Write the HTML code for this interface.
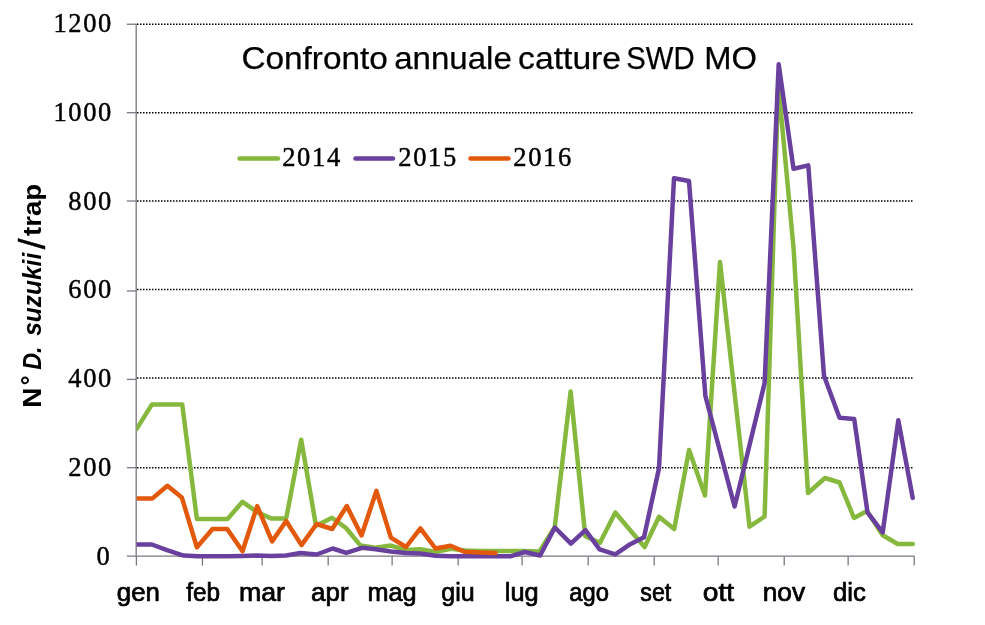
<!DOCTYPE html><html><head><meta charset="utf-8"><title>Confronto annuale catture SWD MO</title>
<style>html,body{margin:0;padding:0;background:#fff;}svg{display:block;filter:blur(0.4px);}svg{font-family:"Liberation Sans",Arial,sans-serif;}text{fill:#000;}</style></head><body>
<svg width="985" height="625" viewBox="0 0 985 625">
<rect width="985" height="625" fill="#fff"/>
<line x1="137" y1="24.2" x2="914" y2="24.2" stroke="#000" stroke-width="1.4" stroke-dasharray="1.5 1.5"/>
<line x1="137" y1="112.7" x2="914" y2="112.7" stroke="#000" stroke-width="1.4" stroke-dasharray="1.5 1.5"/>
<line x1="137" y1="201.0" x2="914" y2="201.0" stroke="#000" stroke-width="1.4" stroke-dasharray="1.5 1.5"/>
<line x1="137" y1="289.5" x2="914" y2="289.5" stroke="#000" stroke-width="1.4" stroke-dasharray="1.5 1.5"/>
<line x1="137" y1="378.0" x2="914" y2="378.0" stroke="#000" stroke-width="1.4" stroke-dasharray="1.5 1.5"/>
<line x1="137" y1="467.8" x2="914" y2="467.8" stroke="#000" stroke-width="1.4" stroke-dasharray="1.5 1.5"/>
<line x1="136.2" y1="23.6" x2="136.2" y2="556.8" stroke="#7c7681" stroke-width="1.3"/>
<line x1="126.8" y1="556.2" x2="914.6" y2="556.2" stroke="#7c7681" stroke-width="1.3"/>
<line x1="126.8" y1="24.25" x2="136.2" y2="24.25" stroke="#7c7681" stroke-width="1.3"/>
<line x1="126.8" y1="112.7" x2="136.2" y2="112.7" stroke="#7c7681" stroke-width="1.3"/>
<line x1="126.8" y1="201.0" x2="136.2" y2="201.0" stroke="#7c7681" stroke-width="1.3"/>
<line x1="126.8" y1="291.0" x2="136.2" y2="291.0" stroke="#7c7681" stroke-width="1.3"/>
<line x1="126.8" y1="379.4" x2="136.2" y2="379.4" stroke="#7c7681" stroke-width="1.3"/>
<line x1="126.8" y1="467.7" x2="136.2" y2="467.7" stroke="#7c7681" stroke-width="1.3"/>
<line x1="136.40" y1="556.2" x2="136.40" y2="565.6" stroke="#7c7681" stroke-width="1.3"/>
<line x1="202.46" y1="556.2" x2="202.46" y2="565.6" stroke="#7c7681" stroke-width="1.3"/>
<line x1="262.13" y1="556.2" x2="262.13" y2="565.6" stroke="#7c7681" stroke-width="1.3"/>
<line x1="328.19" y1="556.2" x2="328.19" y2="565.6" stroke="#7c7681" stroke-width="1.3"/>
<line x1="392.12" y1="556.2" x2="392.12" y2="565.6" stroke="#7c7681" stroke-width="1.3"/>
<line x1="458.17" y1="556.2" x2="458.17" y2="565.6" stroke="#7c7681" stroke-width="1.3"/>
<line x1="522.10" y1="556.2" x2="522.10" y2="565.6" stroke="#7c7681" stroke-width="1.3"/>
<line x1="588.16" y1="556.2" x2="588.16" y2="565.6" stroke="#7c7681" stroke-width="1.3"/>
<line x1="654.22" y1="556.2" x2="654.22" y2="565.6" stroke="#7c7681" stroke-width="1.3"/>
<line x1="718.15" y1="556.2" x2="718.15" y2="565.6" stroke="#7c7681" stroke-width="1.3"/>
<line x1="784.21" y1="556.2" x2="784.21" y2="565.6" stroke="#7c7681" stroke-width="1.3"/>
<line x1="848.14" y1="556.2" x2="848.14" y2="565.6" stroke="#7c7681" stroke-width="1.3"/>
<line x1="914.20" y1="556.2" x2="914.20" y2="565.6" stroke="#7c7681" stroke-width="1.3"/>
<defs><clipPath id="pa"><rect x="136.6" y="0" width="850" height="625"/></clipPath></defs>
<g clip-path="url(#pa)">
<polyline points="136.8,428.6 152.0,404.4 167.0,404.4 182.2,404.4 196.9,519.0 212.0,519.0 227.5,519.0 242.5,501.8 256.8,512.0 271.0,518.4 286.2,518.4 301.2,439.7 316.0,525.8 332.0,517.8 346.0,528.0 360.5,545.6 375.5,547.8 390.9,545.6 406.0,550.0 420.4,549.2 435.5,552.0 450.6,548.8 465.5,550.5 480.4,551.0 495.3,551.0 510.2,551.0 524.0,551.0 539.5,551.5 554.8,527.0 570.6,391.5 585.3,536.3 600.0,542.7 615.3,512.5 630.0,530.0 644.6,547.0 659.0,516.8 674.2,529.0 689.1,450.0 705.0,495.5 720.0,262.0 734.0,388.0 749.5,526.7 764.6,516.5 778.3,84.0 793.7,250.0 808.0,493.0 825.0,478.0 839.5,482.5 854.0,518.0 867.0,511.0 882.7,535.3 897.7,544.0 912.7,544.0" fill="none" stroke="#86b83e" stroke-width="4.5" stroke-linejoin="round" stroke-linecap="round"/>
<polyline points="136.8,544.5 151.9,544.5 167.0,550.2 183.5,555.6 198.0,556.2 212.0,556.2 227.0,556.2 242.0,556.0 257.0,555.5 271.0,556.0 286.0,555.5 300.5,553.0 316.6,554.5 332.7,548.5 346.2,552.8 362.0,547.8 375.7,549.2 390.9,551.5 406.0,553.0 420.4,553.5 435.5,555.7 450.6,556.2 465.5,556.3 480.4,556.3 495.3,556.3 510.2,556.3 524.9,552.0 540.1,555.5 554.9,527.5 570.9,543.7 585.4,530.1 599.6,549.3 615.3,554.4 630.2,544.2 644.0,537.3 659.0,468.2 674.0,178.2 689.0,181.0 705.4,396.0 734.6,506.5 764.6,383.1 778.7,64.2 793.5,168.8 808.3,165.4 824.0,375.8 839.5,417.8 854.2,419.0 867.5,512.3 882.7,532.4 898.3,420.2 912.7,497.9" fill="none" stroke="#6a409e" stroke-width="4.5" stroke-linejoin="round" stroke-linecap="round"/>
<polyline points="136.8,498.4 152.5,498.4 167.4,485.8 181.8,497.4 196.9,547.3 212.5,529.0 227.2,529.0 242.5,551.2 257.2,506.1 272.1,541.4 286.2,521.0 301.5,545.1 316.6,524.0 332.2,529.0 346.8,506.0 361.5,535.5 376.4,490.9 390.9,537.7 406.0,547.0 420.4,528.3 435.5,548.5 450.6,545.7 464.2,551.8 480.4,552.5 495.5,553.0" fill="none" stroke="#e2590c" stroke-width="4.5" stroke-linejoin="round" stroke-linecap="round"/>
</g>
<text x="53.48 68.31 83.14 97.97" y="31.9" font-family="Liberation Serif, serif" font-size="26.5" stroke="#000" stroke-width="0.45">1200</text>
<text x="53.48 68.31 83.14 97.97" y="120.5" font-family="Liberation Serif, serif" font-size="26.5" stroke="#000" stroke-width="0.45">1000</text>
<text x="68.31 83.14 97.97" y="210.3" font-family="Liberation Serif, serif" font-size="26.5" stroke="#000" stroke-width="0.45">800</text>
<text x="68.31 83.14 97.97" y="298.3" font-family="Liberation Serif, serif" font-size="26.5" stroke="#000" stroke-width="0.45">600</text>
<text x="68.31 83.14 97.97" y="387.0" font-family="Liberation Serif, serif" font-size="26.5" stroke="#000" stroke-width="0.45">400</text>
<text x="68.31 83.14 97.97" y="475.5" font-family="Liberation Serif, serif" font-size="26.5" stroke="#000" stroke-width="0.45">200</text>
<text x="96.42" y="565.2" font-family="Liberation Serif, serif" font-size="26.5" stroke="#000" stroke-width="0.45">0</text>
<text x="282.18 297.07 311.98 326.88" y="165.9" font-family="Liberation Serif, serif" font-size="26.5" stroke="#000" stroke-width="0.45">2014</text>
<text x="398.27 413.17 428.07 442.97" y="165.9" font-family="Liberation Serif, serif" font-size="26.5" stroke="#000" stroke-width="0.45">2015</text>
<text x="513.27 528.17 543.07 557.98" y="165.9" font-family="Liberation Serif, serif" font-size="26.5" stroke="#000" stroke-width="0.45">2016</text>
<text x="116.77" y="601.0" font-size="25" stroke="#000" stroke-width="0.7" textLength="43.11" lengthAdjust="spacingAndGlyphs">gen</text>
<text x="186.30" y="601.0" font-size="25" stroke="#000" stroke-width="0.7" textLength="33.85" lengthAdjust="spacingAndGlyphs">feb</text>
<text x="238.96" y="601.0" font-size="25" stroke="#000" stroke-width="0.7" textLength="46.00" lengthAdjust="spacingAndGlyphs">mar</text>
<text x="311.06" y="601.0" font-size="25" stroke="#000" stroke-width="0.7" textLength="37.48" lengthAdjust="spacingAndGlyphs">apr</text>
<text x="367.48" y="601.0" font-size="25" stroke="#000" stroke-width="0.7" textLength="49.07" lengthAdjust="spacingAndGlyphs">mag</text>
<text x="441.30" y="601.0" font-size="25" stroke="#000" stroke-width="0.7" textLength="33.38" lengthAdjust="spacingAndGlyphs">giu</text>
<text x="504.77" y="601.0" font-size="25" stroke="#000" stroke-width="0.7" textLength="33.82" lengthAdjust="spacingAndGlyphs">lug</text>
<text x="569.35" y="601.0" font-size="25" stroke="#000" stroke-width="0.7" textLength="39.63" lengthAdjust="spacingAndGlyphs">ago</text>
<text x="640.37" y="601.0" font-size="25" stroke="#000" stroke-width="0.7" textLength="30.96" lengthAdjust="spacingAndGlyphs">set</text>
<text x="702.87" y="601.0" font-size="25" stroke="#000" stroke-width="0.7" textLength="31.30" lengthAdjust="spacingAndGlyphs">ott</text>
<text x="762.69" y="601.0" font-size="25" stroke="#000" stroke-width="0.7" textLength="42.43" lengthAdjust="spacingAndGlyphs">nov</text>
<text x="832.97" y="601.0" font-size="25" stroke="#000" stroke-width="0.7" textLength="32.82" lengthAdjust="spacingAndGlyphs">dic</text>
<text x="241.41" y="68.5" font-size="30.5" stroke="#000" stroke-width="0.25" textLength="146.33" lengthAdjust="spacingAndGlyphs">Confronto</text>
<text x="394.22" y="68.5" font-size="30.5" stroke="#000" stroke-width="0.25" textLength="117.58" lengthAdjust="spacingAndGlyphs">annuale</text>
<text x="518.10" y="68.5" font-size="30.5" stroke="#000" stroke-width="0.25" textLength="102.98" lengthAdjust="spacingAndGlyphs">catture</text>
<text x="626.28" y="68.5" font-size="30.5" stroke="#000" stroke-width="0.25" textLength="68.35" lengthAdjust="spacingAndGlyphs">SWD</text>
<text x="704.16" y="68.5" font-size="30.5" stroke="#000" stroke-width="0.25" textLength="52.67" lengthAdjust="spacingAndGlyphs">MO</text>
<g transform="translate(41.3,0) rotate(-90)">
<text x="-407.85" y="0.0" font-size="26" font-weight="bold" textLength="20.16" lengthAdjust="spacingAndGlyphs">N</text>
<text x="-385.24" y="-2.0" font-size="26" font-weight="bold" textLength="9.76" lengthAdjust="spacingAndGlyphs">°</text>
<text x="-369.80" y="0.0" font-size="26" font-weight="bold" font-style="italic" textLength="23.29" lengthAdjust="spacingAndGlyphs">D.</text>
<text x="-335.80" y="0.0" font-size="26" font-weight="bold" font-style="italic" textLength="82.99" lengthAdjust="spacingAndGlyphs">suzukii</text>
<text x="-236.00" y="0.0" font-size="26" font-weight="bold" textLength="52.20" lengthAdjust="spacingAndGlyphs">trap</text>
<text x="-249.20" y="4.0" font-size="36" stroke="#000" stroke-width="0.4" textLength="10.82" lengthAdjust="spacingAndGlyphs">/</text>
</g>
<line x1="239.5" y1="158.5" x2="278" y2="158.5" stroke="#86b83e" stroke-width="4.5" stroke-linecap="round"/>
<line x1="355.5" y1="158.5" x2="393" y2="158.5" stroke="#6a409e" stroke-width="4.5" stroke-linecap="round"/>
<line x1="470.5" y1="158.5" x2="508.5" y2="158.5" stroke="#e2590c" stroke-width="4.5" stroke-linecap="round"/>
</svg></body></html>
